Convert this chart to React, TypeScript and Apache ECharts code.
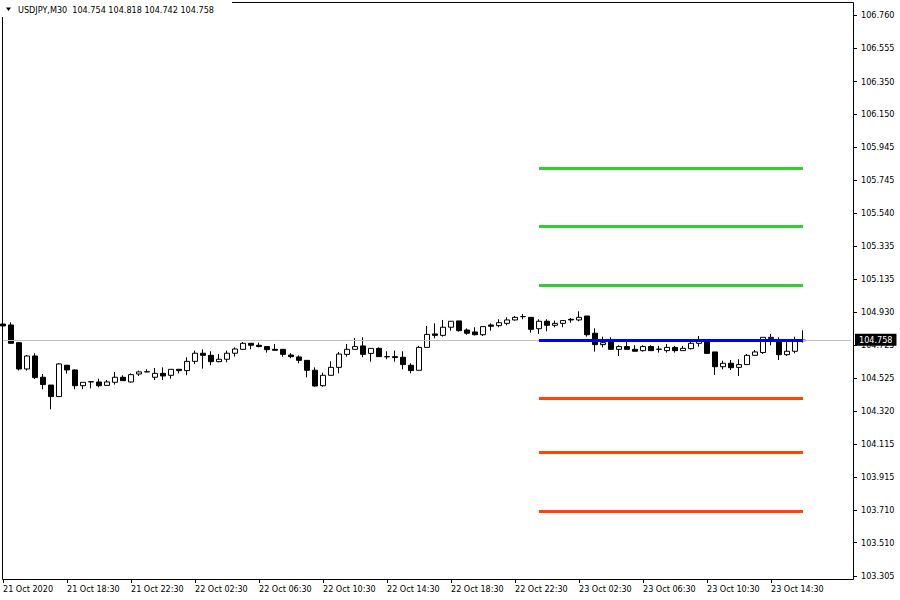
import React, { useEffect, useRef } from "react";
import * as echarts from "echarts";

const symbolName = "USDJPY,M30";

const opens = [
  104.857, 104.851, 104.742, 104.58, 104.66, 104.529, 104.481, 104.41, 104.603, 104.574,
  104.477, 104.5, 104.5, 104.479, 104.498, 104.529, 104.5, 104.549, 104.562, 104.529,
  104.553, 104.541, 104.578, 104.57, 104.627, 104.677, 104.664, 104.625, 104.64, 104.677,
  104.701, 104.738, 104.726, 104.718, 104.701, 104.701, 104.666, 104.654, 104.633, 104.572,
  104.477, 104.541, 104.59, 104.67, 104.701, 104.722, 104.676, 104.707, 104.656, 104.656,
  104.652, 104.603, 104.572, 104.713, 104.796, 104.787, 104.837, 104.876, 104.82, 104.808,
  104.791, 104.851, 104.847, 104.861, 104.882, 104.902, 104.898, 104.828, 104.874, 104.849,
  104.861, 104.886, 104.882, 104.906, 104.8, 104.73, 104.746, 104.701, 104.718, 104.701,
  104.693, 104.718, 104.701, 104.693, 104.713, 104.693, 104.705, 104.738, 104.754, 104.685,
  104.594, 104.615, 104.59, 104.607, 104.664, 104.681, 104.767, 104.755, 104.668, 104.689,
  104.754,
];
const highs = [
  104.923, 104.867, 104.746, 104.666, 104.677, 104.549, 104.481, 104.615, 104.605, 104.578,
  104.498, 104.506, 104.52, 104.512, 104.562, 104.541, 104.553, 104.57, 104.578, 104.586,
  104.59, 104.578, 104.578, 104.652, 104.693, 104.701, 104.689, 104.672, 104.693, 104.713,
  104.746, 104.738, 104.742, 104.718, 104.734, 104.701, 104.677, 104.664, 104.633, 104.59,
  104.557, 104.627, 104.685, 104.734, 104.771, 104.775, 104.707, 104.713, 104.689, 104.693,
  104.689, 104.615, 104.722, 104.845, 104.861, 104.882, 104.874, 104.876, 104.83, 104.837,
  104.841, 104.861, 104.886, 104.898, 104.906, 104.919, 104.898, 104.886, 104.886, 104.878,
  104.882, 104.894, 104.935, 104.906, 104.83, 104.779, 104.775, 104.726, 104.754, 104.726,
  104.726, 104.726, 104.722, 104.734, 104.722, 104.722, 104.754, 104.783, 104.763, 104.685,
  104.631, 104.635, 104.64, 104.672, 104.697, 104.775, 104.796, 104.775, 104.746, 104.779,
  104.818,
];
const lows = [
  104.845, 104.735, 104.57, 104.57, 104.518, 104.455, 104.332, 104.41, 104.551, 104.455,
  104.455, 104.461, 104.467, 104.479, 104.484, 104.508, 104.496, 104.537, 104.56, 104.512,
  104.512, 104.52, 104.553, 104.541, 104.611, 104.582, 104.603, 104.621, 104.621, 104.656,
  104.697, 104.701, 104.713, 104.681, 104.695, 104.656, 104.646, 104.615, 104.529, 104.471,
  104.471, 104.541, 104.553, 104.656, 104.701, 104.652, 104.625, 104.656, 104.64, 104.625,
  104.578, 104.553, 104.572, 104.713, 104.769, 104.779, 104.816, 104.81, 104.791, 104.787,
  104.783, 104.816, 104.837, 104.849, 104.878, 104.886, 104.804, 104.796, 104.812, 104.837,
  104.837, 104.865, 104.874, 104.779, 104.687, 104.713, 104.701, 104.66, 104.701, 104.689,
  104.687, 104.693, 104.681, 104.681, 104.681, 104.693, 104.701, 104.718, 104.676, 104.543,
  104.578, 104.574, 104.537, 104.607, 104.664, 104.672, 104.726, 104.635, 104.66, 104.677,
  104.742,
];
const closes = [
  104.845, 104.738, 104.58, 104.66, 104.527, 104.484, 104.41, 104.611, 104.574, 104.477,
  104.498, 104.502, 104.477, 104.5, 104.529, 104.508, 104.545, 104.562, 104.563, 104.553,
  104.537, 104.578, 104.57, 104.627, 104.677, 104.664, 104.625, 104.64, 104.677, 104.703,
  104.738, 104.726, 104.718, 104.699, 104.695, 104.67, 104.656, 104.633, 104.572, 104.475,
  104.541, 104.59, 104.672, 104.701, 104.718, 104.67, 104.707, 104.656, 104.655, 104.65,
  104.607, 104.57, 104.713, 104.793, 104.787, 104.837, 104.874, 104.816, 104.8, 104.791,
  104.841, 104.843, 104.865, 104.882, 104.898, 104.903, 104.824, 104.874, 104.849, 104.861,
  104.878, 104.882, 104.898, 104.791, 104.73, 104.742, 104.701, 104.718, 104.701, 104.689,
  104.718, 104.693, 104.702, 104.713, 104.693, 104.707, 104.738, 104.754, 104.676, 104.594,
  104.615, 104.588, 104.607, 104.664, 104.685, 104.775, 104.775, 104.668, 104.689, 104.75,
  104.758,
];

const xTickLabels = [
  "21 Oct 2020", "21 Oct 18:30", "21 Oct 22:30", "22 Oct 02:30", "22 Oct 06:30",
  "22 Oct 10:30", "22 Oct 14:30", "22 Oct 18:30", "22 Oct 22:30", "23 Oct 02:30",
  "23 Oct 06:30", "23 Oct 10:30", "23 Oct 14:30",
];
const yTickLabels = [
  "106.760", "106.555", "106.350", "106.150", "105.945", "105.745", "105.540", "105.335",
  "105.135", "104.930", "104.725", "104.525", "104.320", "104.115", "103.915", "103.710",
  "103.510", "103.305",
];

const levelPrices = [105.816, 105.459, 105.095, 104.758, 104.399, 104.067, 103.703];
const levelColors = ["#32CD32", "#32CD32", "#32CD32", "#0000FF", "#FF4500", "#FF4500", "#FF4500"];
const levelStartIndex = 67;
const levelEndIndex = 100;
const bidPrice = 104.758;

const MONTHS = ["Jan", "Feb", "Mar", "Apr", "May", "Jun", "Jul", "Aug", "Sep", "Oct", "Nov", "Dec"];
const totalSlots = 107;
const startTime = Date.UTC(2020, 9, 21, 14, 30);
const categories: string[] = [];
for (let i = 0; i < totalSlots; i++) {
  const d = new Date(startTime + i * 30 * 60 * 1000);
  const dd = String(d.getUTCDate()).padStart(2, "0");
  const hh = String(d.getUTCHours()).padStart(2, "0");
  const mm = String(d.getUTCMinutes()).padStart(2, "0");
  categories.push(`${dd} ${MONTHS[d.getUTCMonth()]} ${hh}:${mm}`);
}

const FONT = 'Tahoma, "DejaVu Sans Condensed", "Liberation Sans", Arial, sans-serif';

export default function App() {
  const ref = useRef<HTMLDivElement>(null);
  useEffect(() => {
    if (!ref.current) return;
    const chart = echarts.init(ref.current, undefined, { renderer: "svg" });
    const candleData = opens.map((o, i) => [o, closes[i], lows[i], highs[i]]);
    const yTickValues = yTickLabels.map((s) => parseFloat(s));
    const last = opens.length - 1;
    const header = `${symbolName}  ${opens[last].toFixed(3)} ${highs[last].toFixed(3)} ${lows[last].toFixed(3)} ${closes[last].toFixed(3)}`;
    const showIdx = (i: number) => i % 8 === 0 && i / 8 < xTickLabels.length;

    chart.setOption({
      animation: false,
      backgroundColor: "#ffffff",
      grid: { left: 3, top: 3, width: 848, height: 576, containLabel: false },
      xAxis: {
        type: "category",
        data: categories,
        boundaryGap: false,
        axisLine: { show: false },
        axisTick: { show: true, interval: (i: number) => showIdx(i), length: 4, lineStyle: { color: "#000" } },
        axisLabel: {
          interval: (i: number) => showIdx(i),
          formatter: (_v: string, i: number) => xTickLabels[i / 8] ?? "",
          align: "left",
          margin: 5,
          color: "#000",
          fontSize: 9,
          fontFamily: FONT,
        },
        splitLine: { show: false },
      },
      yAxis: {
        type: "value",
        position: "right",
        min: 103.2865,
        max: 106.834,
        offset: 3,
        axisLine: { show: false },
        axisTick: { show: true, length: 3, customValues: yTickValues, lineStyle: { color: "#000" } },
        axisLabel: {
          customValues: yTickValues,
          formatter: (v: number) => v.toFixed(3),
          margin: 7,
          color: "#000",
          fontSize: 9,
          fontFamily: FONT,
        },
        splitLine: { show: false },
      },
      graphic: [
        {
          type: "rect",
          silent: true,
          shape: { x: 2.5, y: 2.5, width: 851, height: 577 },
          style: { fill: "none", stroke: "#000", lineWidth: 1 },
        },
        {
          type: "rect",
          silent: true,
          shape: { x: 0, y: 0, width: 232, height: 17 },
          style: { fill: "#fff" },
        },
        {
          type: "polygon",
          silent: true,
          shape: { points: [[6, 7.5], [11, 7.5], [8.5, 11]] },
          style: { fill: "#000" },
        },
        {
          type: "text",
          silent: true,
          x: 18,
          y: 10,
          style: { text: header, fill: "#000", font: `9px ${FONT}`, verticalAlign: "middle", align: "left" },
        },
      ],
      series: [
        {
          type: "line",
          data: [],
          z: 1,
          silent: true,
          markLine: {
            silent: true,
            symbol: ["none", "none"],
            data: [
              {
                yAxis: bidPrice,
                lineStyle: { color: "#C0C0C0", width: 1, type: "solid" },
                label: {
                  show: true,
                  position: "end",
                  formatter: bidPrice.toFixed(3),
                  color: "#fff",
                  backgroundColor: "#000",
                  padding: [2, 4, 1, 4],
                  fontSize: 9,
                  fontFamily: FONT,
                  distance: 4,
                },
              },
            ],
          },
        },
        {
          type: "candlestick",
          data: candleData,
          barWidth: 5,
          clip: true,
          z: 2,
          itemStyle: {
            color: "#ffffff",
            color0: "#000000",
            borderColor: "#000000",
            borderColor0: "#000000",
            borderWidth: 1,
          },
        },
        {
          type: "line",
          data: [],
          z: 3,
          silent: true,
          markLine: {
            silent: true,
            symbol: ["none", "none"],
            label: { show: false },
            data: levelPrices.map((p, k) => [
              {
                coord: [categories[levelStartIndex], p],
                lineStyle: { color: levelColors[k], width: 3, type: "solid" },
              },
              { coord: [categories[levelEndIndex], p] },
            ]),
          },
        },
      ],
    });
    return () => chart.dispose();
  }, []);

  return <div ref={ref} style={{ position: "fixed", left: 0, top: 0, width: 900, height: 600 }} />;
}
